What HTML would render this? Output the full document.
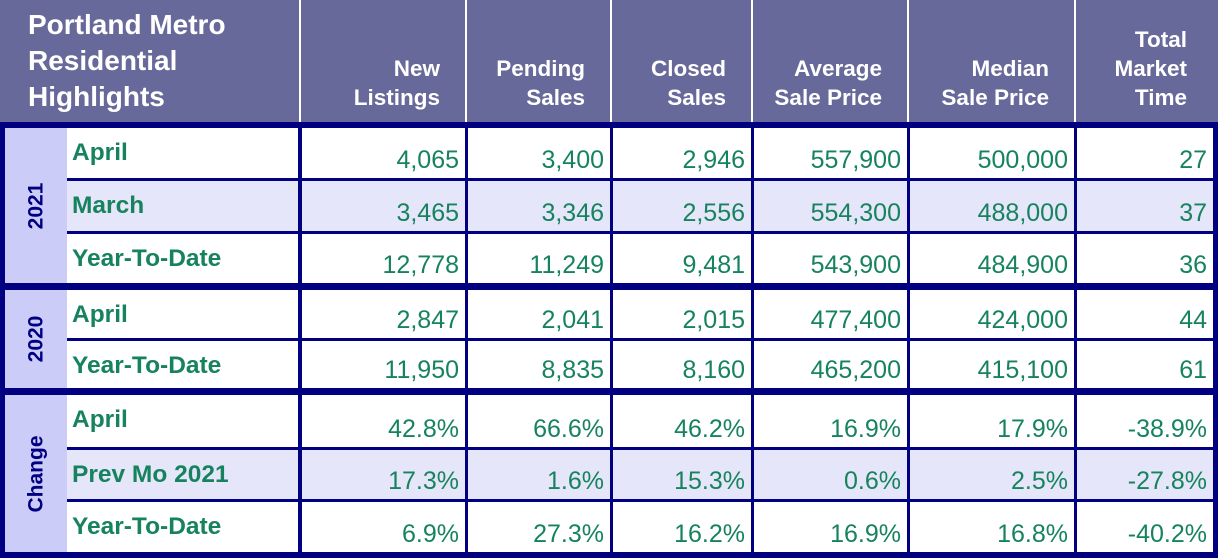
<!DOCTYPE html>
<html><head><meta charset="utf-8"><style>
body{margin:0;width:1218px;height:558px;overflow:hidden;background:#fff;font-family:"Liberation Sans",Arial,sans-serif;position:relative}
.a{position:absolute;box-sizing:border-box}
.hd{color:#fff;font-weight:bold;font-size:22.5px;text-align:right;line-height:29px;white-space:nowrap}
.lbl{color:#16835e;font-weight:bold;font-size:24.5px;padding-left:5px;white-space:nowrap}
.num{color:#16835e;font-size:25px;text-align:right;padding-right:6px}
.yr{color:#000080;font-weight:bold;font-size:21px;transform:rotate(-90deg);white-space:nowrap}
</style></head><body>
<div class="a" style="left:0;top:0;width:1218px;height:122px;background:#67699a"></div>
<div class="a" style="left:28px;top:7px;color:#fff;font-weight:bold;font-size:28px;line-height:36px;white-space:nowrap">Portland Metro<br>Residential<br>Highlights</div>
<div id="root"></div>
<script>
const columns=["New<br>Listings","Pending<br>Sales","Closed<br>Sales","Average<br>Sale Price","Median<br>Sale Price","Total<br>Market<br>Time"];
const groups=["2021","2020","Change"];
const rowLabels=[["April","March","Year-To-Date"],["April","Year-To-Date"],["April","Prev Mo 2021","Year-To-Date"]];
const values=[
[["4,065","3,400","2,946","557,900","500,000","27"],["3,465","3,346","2,556","554,300","488,000","37"],["12,778","11,249","9,481","543,900","484,900","36"]],
[["2,847","2,041","2,015","477,400","424,000","44"],["11,950","8,835","8,160","465,200","415,100","61"]],
[["42.8%","66.6%","46.2%","16.9%","17.9%","-38.9%"],["17.3%","1.6%","15.3%","0.6%","2.5%","-27.8%"],["6.9%","27.3%","16.2%","16.9%","16.8%","-40.2%"]]];
const colX=[300,466,611,752,908,1075,1213];
const root=document.getElementById('root');
function box(name,st,html,cls){const d=document.createElement('div');d.className='a '+(cls||'');d.setAttribute('style',st);if(html)d.innerHTML=html;


root.appendChild(d);return d;}
columns.forEach((c,i)=>{
box('header-'+i,`left:${colX[i]}px;top:0;width:${colX[i+1]-colX[i]-26}px;height:112px;display:flex;align-items:flex-end;justify-content:flex-end`,`<div>${c}</div>`,'hd');
box('header-sep-'+i,`left:${colX[i]-1}px;top:0;width:2px;height:122px;background:#fff`);
});
const rowH=[[128,181,234,283],[290,341,388],[395,450,502,552]];
box('table-border',`left:0;top:122px;width:1218px;height:436px;background:#000080`);
groups.forEach((g,gi)=>{
const rs=rowH[gi];const top=rs[0],bot=rs[rs.length-1];
box('group-'+g,`left:5px;top:${top}px;width:62px;height:${bot-top}px;background:#ccccf9;display:flex;align-items:center;justify-content:center`,`<div class="yr">${g}</div>`);
rowLabels[gi].forEach((r,ri)=>{
const y=rs[ri],h=rs[ri+1]-rs[ri]-(ri<rowLabels[gi].length-1?3:0);
const bg=(r=="March"||r=="Prev Mo 2021")?'#e6e6fa':'#fff';
box('row-label-'+g+'-'+ri,`left:67px;top:${y}px;width:231px;height:${h}px;background:${bg};line-height:50px`,r,'lbl');
values[gi][ri].forEach((v,ci)=>{
box('cell-'+g+'-'+ri+'-'+ci,`left:${colX[ci]+2}px;top:${y}px;width:${colX[ci+1]-colX[ci]-(ci<5?3:2)}px;height:${h}px;background:${bg};display:flex;align-items:flex-end;justify-content:flex-end;padding-bottom:3px`,v,'num');
});
});
});
</script>
</body></html>
